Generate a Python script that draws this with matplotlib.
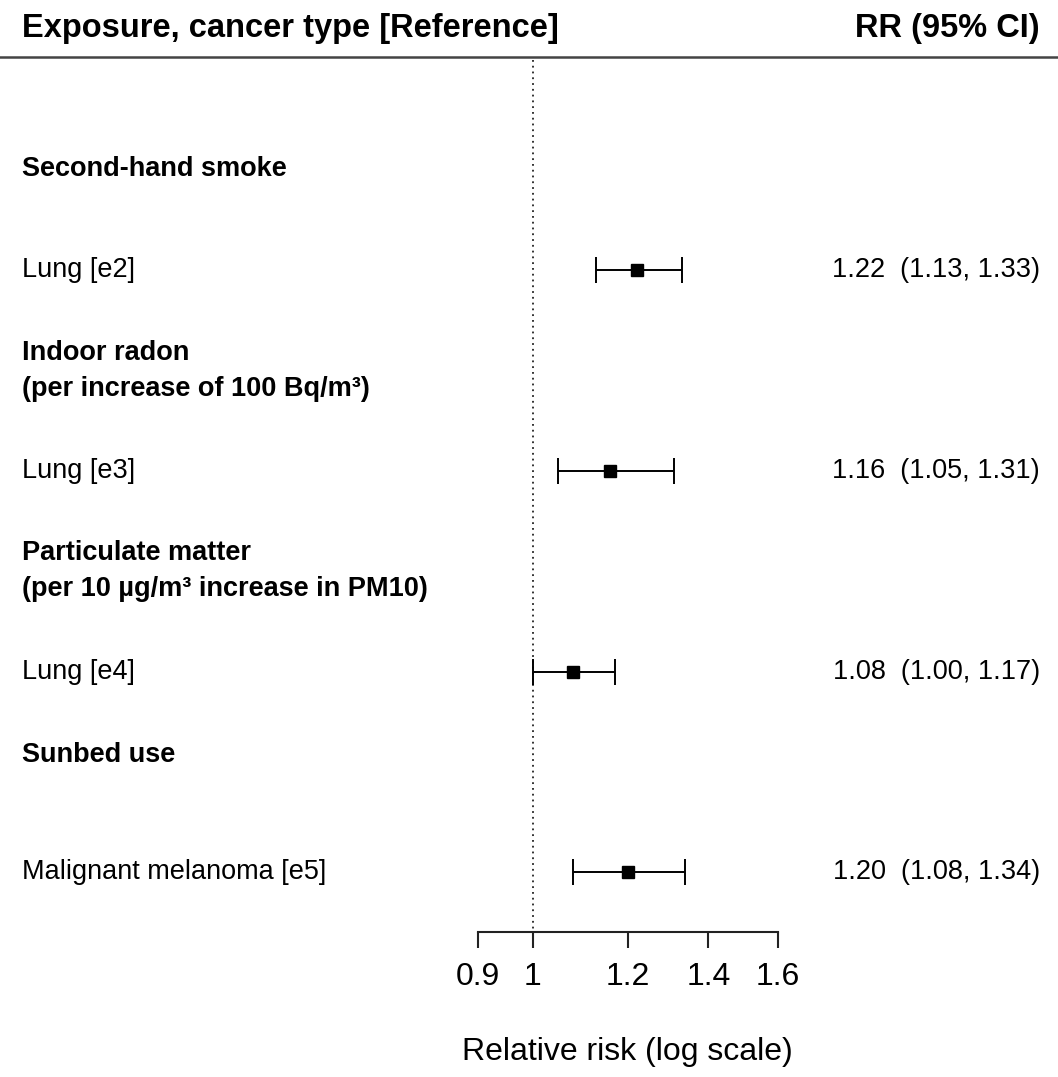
import matplotlib
matplotlib.use("Agg")
import matplotlib.pyplot as plt
import numpy as np

plt.rcParams['font.family'] = ['Liberation Sans', 'DejaVu Sans']

# data
groups = ["Second-hand smoke",
          "Indoor radon\n(per increase of 100 Bq/m³)",
          "Particulate matter\n(per 10 µg/m³ increase in PM10)",
          "Sunbed use"]
outcomes = ["Lung [e2]", "Lung [e3]", "Lung [e4]", "Malignant melanoma [e5]"]
rr = [1.22, 1.16, 1.08, 1.20]
lower = [1.13, 1.05, 1.00, 1.08]
upper = [1.33, 1.31, 1.17, 1.34]
ticks = [0.9, 1, 1.2, 1.4, 1.6]
tick_labels = ["0.9", "1", "1.2", "1.4", "1.6"]

# layout (pixel rows, top = 0)
W, H = 1058, 1077
group_y = [169, 371, 571, 755]
row_y = [270, 471, 672, 872]
axis_y = 932
header_y = 28
rule_y = 57

fig = plt.figure(figsize=(W / 100, H / 100), dpi=100)
ax = fig.add_axes([0, 0, 1, 1])
ax.set_xscale('log')
# 1.0 sits at x=532.7 px, 522 px per log unit
px_per = 522.0
x0 = 532.7
ax.set_xlim(np.exp(-x0 / px_per), np.exp((W - x0) / px_per))
ax.set_ylim(H, 0)

for s in ['top', 'left', 'right']:
    ax.spines[s].set_visible(False)
ax.spines['bottom'].set_position(('data', axis_y))
ax.spines['bottom'].set_bounds(0.9, 1.6)
ax.spines['bottom'].set_linewidth(1.5)
ax.spines['bottom'].set_color('#222222')
ax.set_xticks(ticks)
ax.set_xticklabels(tick_labels)
ax.minorticks_off()
ax.tick_params(axis='x', which='both', direction='out', length=11.5, width=1.5,
               color='#222222', labelsize=23, pad=10)
ax.tick_params(axis='x', which='minor', length=0)
ax.set_yticks([])

ax.text(1.2, 1052, "Relative risk (log scale)", ha='center', va='center', fontsize=23)

tr = ax.get_yaxis_transform()

# header
ax.text(22 / W, header_y, "Exposure, cancer type [Reference]", transform=tr,
        ha='left', va='center', fontsize=23.5, fontweight='bold')
ax.text(1040 / W, header_y, "RR (95% CI)", transform=tr,
        ha='right', va='center', fontsize=23.5, fontweight='bold')
ax.axhline(rule_y, color='#444444', linewidth=1.8)

# reference line
ax.plot([1, 1], [rule_y + 3, axis_y], color='#222222', linestyle=(0, (1, 2.2)), linewidth=1.3)

for g, gy in zip(groups, group_y):
    ax.text(22 / W, gy, g, transform=tr, ha='left', va='center', fontsize=19.5,
            fontweight='bold', linespacing=1.55)

for name, y, m, lo, hi in zip(outcomes, row_y, rr, lower, upper):
    ax.text(22 / W, y, name, transform=tr, ha='left', va='center', fontsize=19.5)
    ax.errorbar([m], [y], xerr=[[m - lo], [hi - m]], fmt='s', color='black',
                markersize=8.5, elinewidth=1.4, capsize=9.7, capthick=1.4)
    ax.text(1040 / W, y, f"{m:.2f}  ({lo:.2f}, {hi:.2f})", transform=tr,
            ha='right', va='center', fontsize=19.5)

fig.savefig("out.png", dpi=100)
